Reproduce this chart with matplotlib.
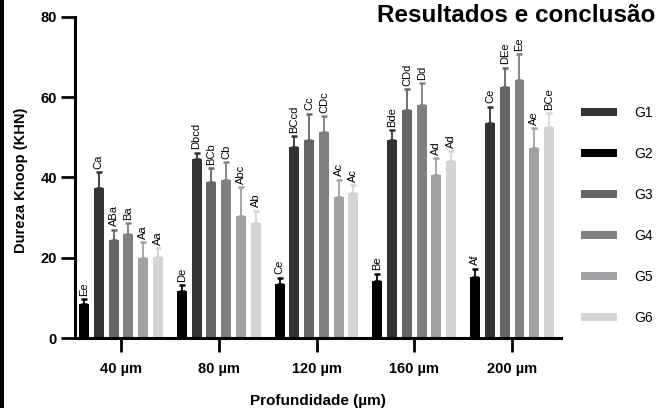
import matplotlib
matplotlib.use("Agg")
import matplotlib.pyplot as plt
from matplotlib.patches import Patch, Rectangle
import numpy as np

plt.rcParams['font.family'] = ['Liberation Sans', 'DejaVu Sans']

depths = ["40 µm", "80 µm", "120 µm", "160 µm", "200 µm"]
bar_order = ["G2", "G1", "G3", "G4", "G5", "G6"]
legend_order = ["G1", "G2", "G3", "G4", "G5", "G6"]
colors = {"G1": "#333333", "G2": "#000000", "G3": "#666666",
          "G4": "#808080", "G5": "#a0a0a4", "G6": "#d4d4d4"}

means = {
    "G2": [8.4, 11.7, 13.4, 14.1, 15.2],
    "G1": [37.3, 44.6, 47.5, 49.4, 53.5],
    "G3": [24.3, 38.8, 49.4, 56.9, 62.6],
    "G4": [25.8, 39.3, 51.4, 58.1, 64.3],
    "G5": [20.0, 30.3, 35.0, 40.5, 47.2],
    "G6": [20.2, 28.6, 36.0, 44.0, 52.5],
}
sds = {
    "G2": [1.3, 1.5, 1.6, 1.9, 2.1],
    "G1": [4.0, 1.5, 2.7, 2.3, 4.1],
    "G3": [2.7, 3.5, 6.5, 5.1, 4.7],
    "G4": [2.8, 4.5, 3.8, 5.4, 6.4],
    "G5": [3.9, 7.2, 4.4, 4.3, 5.0],
    "G6": [2.2, 3.1, 2.1, 2.5, 3.5],
}
letters = {
    "G2": ["Ee", "De", "Ce", "Be", "Af"],
    "G1": ["Ca", "Dbcd", "BCcd", "Bde", "Ce"],
    "G3": ["ABa", "BCb", "Cc", "CDd", "DEe"],
    "G4": ["Ba", "Cb", "CDc", "Dd", "Ee"],
    "G5": ["Aa", "Abc", "Ac", "Ad", "Ae"],
    "G6": ["Aa", "Ab", "Ac", "Ad", "BCe"],
}

W, H = 658, 408
fig = plt.figure(figsize=(W / 100, H / 100), dpi=100)
ax = fig.add_axes([75 / W, 70 / H, (561 - 75) / W, (338 - 16.8) / H])

x = np.arange(len(depths))
pitch = 0.151
width = 0.102
n = len(bar_order)
for i, g in enumerate(bar_order):
    xs = x + (i - (n - 1) / 2) * pitch
    m = np.array(means[g])
    s = np.array(sds[g])
    ax.bar(xs, m, width=width, color=colors[g], zorder=2)
    ax.errorbar(xs, m, yerr=[np.zeros_like(s), s], fmt='none', ecolor=colors[g],
                elinewidth=1.3, capsize=2.5, capthick=1.8, zorder=3)
    for xi, mi, si, lab in zip(xs, m, s, letters[g]):
        ax.annotate(lab, xy=(xi, mi + si), xytext=(0, 2.5), textcoords='offset points',
                    rotation=90, ha='center', va='bottom', fontsize=8)

ax.set_xlim(-0.47, 4.5)
ax.set_ylim(0, 80)
ax.set_yticks([0, 20, 40, 60, 80])
ax.set_xticks(x)
ax.set_xticklabels(depths, fontweight='bold', fontsize=10.5)
for t in ax.get_yticklabels():
    t.set_fontweight('bold')
    t.set_fontsize(10.5)
ax.tick_params(axis='both', length=10, width=2, direction='out', pad=3)
ax.tick_params(axis='x', pad=7)
for side in ['top', 'right']:
    ax.spines[side].set_visible(False)
for side in ['left', 'bottom']:
    ax.spines[side].set_linewidth(2.2)

ax.set_ylabel("Dureza Knoop (KHN)", fontweight='bold', fontsize=10.5)
ax.yaxis.set_label_coords(-0.097, 0.49)
fig.text(318 / W, 1 - 405 / H, "Profundidade (µm)", fontweight='bold', fontsize=11,
         ha='center', va='baseline')

handles = [Patch(facecolor=colors[g], edgecolor='none') for g in legend_order]
fig.legend(handles, legend_order, loc='upper left', bbox_to_anchor=(575 / W, 1 - 100 / H),
           frameon=False, fontsize=10, handlelength=2.6, handleheight=0.5,
           handletextpad=1.3, labelspacing=1.95, borderaxespad=0)

fig.text(655 / W, 1 - 22 / H, "Resultados e conclusão", fontweight='bold', fontsize=17.5,
         ha='right', va='baseline')

fig.patches.append(Rectangle((0, 0), 4 / W, 1, transform=fig.transFigure,
                             facecolor='black', edgecolor='none', zorder=10))

fig.savefig("out.png", dpi=100)
